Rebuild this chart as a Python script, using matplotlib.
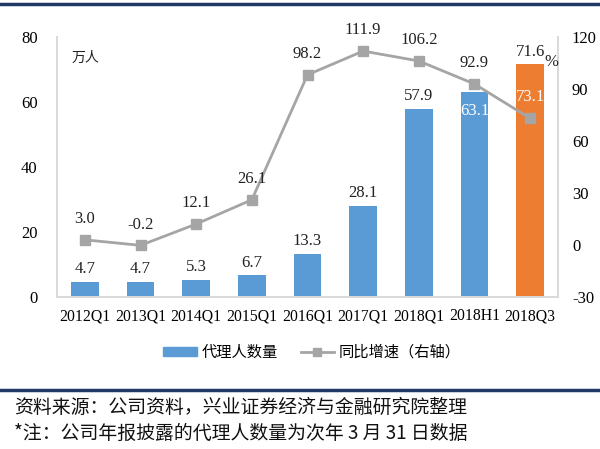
import matplotlib.pyplot as plt
import matplotlib.lines as mlines
import matplotlib.patches as mpatches

plt.rcParams['axes.unicode_minus'] = False

categories = ['2012Q1', '2013Q1', '2014Q1', '2015Q1', '2016Q1', '2017Q1', '2018Q1', '2018H1', '2018Q3']
agents = [4.7, 4.7, 5.3, 6.7, 13.3, 28.1, 57.9, 63.1, 71.6]
growth = [3.0, -0.2, 12.1, 26.1, 98.2, 111.9, 106.2, 92.9, 73.1]

serif = ['Liberation Serif', 'Noto Sans CJK SC']
cjk = ['Noto Sans CJK SC', 'DejaVu Sans']
blue = '#5B9BD5'
orange = '#ED7D31'
grey = '#A5A5A5'
spine_c = '#D9D9D9'

fig = plt.figure(figsize=(6, 4.49), dpi=100)
ax = fig.add_axes([0.095, 0.3385, 0.835, 0.579])
ax2 = ax.twinx()

x = list(range(len(categories)))
colors = [blue] * (len(categories) - 1) + [orange]
ax.bar(x, agents, width=0.5, color=colors, zorder=2)
ax.set_xlim(-0.5, len(categories) - 0.5)
ax.set_ylim(0, 80)
ax.set_yticks([0, 20, 40, 60, 80])
ax.set_xticks(x)
ax.set_xticklabels(categories)

ax2.plot(x, growth, color=grey, lw=2, marker='s', ms=6.5, zorder=3)
ax2.set_ylim(-30, 120)
ax2.set_yticks([-30, 0, 30, 60, 90, 120])

for a in (ax, ax2):
    a.tick_params(length=0, labelsize=12)
    for lab in a.get_xticklabels() + a.get_yticklabels():
        lab.set_family(serif)
    a.spines['top'].set_visible(False)
    for s in ('left', 'right', 'bottom'):
        a.spines[s].set_color(spine_c)
        a.spines[s].set_linewidth(1.2)
ax.tick_params(axis='x', labelsize=11.3, pad=8)
ax.tick_params(axis='y', pad=14)
ax2.tick_params(axis='y', pad=10)

# etiquettes des barres
for i, v in enumerate(agents):
    if i == 7:
        ax.annotate(f'{v:.1f}', (i, v), xytext=(0, -14), textcoords='offset points',
                    ha='center', va='center', color='white', fontsize=12, family=serif)
    else:
        ax.annotate(f'{v:.1f}', (i, v), xytext=(0, 9), textcoords='offset points',
                    ha='center', va='center', color='#222222', fontsize=12, family=serif)

# etiquettes de la courbe
for i, v in enumerate(growth):
    c = 'white' if i == 8 else '#222222'
    ax2.annotate(f'{v:.1f}', (i, v), xytext=(0, 15), textcoords='offset points',
                 ha='center', va='center', color=c, fontsize=12, family=serif, zorder=4)

fig.text(0.12, 0.872, '万人', fontsize=10, family=cjk, color='#222222', va='center')
fig.text(0.908, 0.862, '%', fontsize=12, family=serif, color='#222222', va='center')

h1 = mpatches.Patch(color=blue, label='代理人数量')
h2 = mlines.Line2D([], [], color=grey, lw=2, marker='s', ms=6, label='同比增速（右轴）')
fig.legend(handles=[h1, h2], loc='center', bbox_to_anchor=(0.52, 0.215), ncol=2,
           frameon=False, prop={'family': cjk, 'size': 11}, handlelength=2.2,
           handleheight=0.6, columnspacing=1.5, handletextpad=0.3)

# lignes de cadre
fig.add_artist(mlines.Line2D([0, 1], [0.992, 0.992], color='#1F3864', lw=2.5))
fig.add_artist(mlines.Line2D([0, 1], [0.131, 0.131], color='#1F3864', lw=2.5))

fig.text(0.023, 0.093, '资料来源：公司资料，兴业证券经济与金融研究院整理', fontsize=13.6,
         family=cjk, color='#111111', va='center')
fig.text(0.023, 0.035, '*注：公司年报披露的代理人数量为次年 3 月 31 日数据', fontsize=13.6,
         family=cjk, color='#111111', va='center')

plt.savefig('out.png', dpi=100)
